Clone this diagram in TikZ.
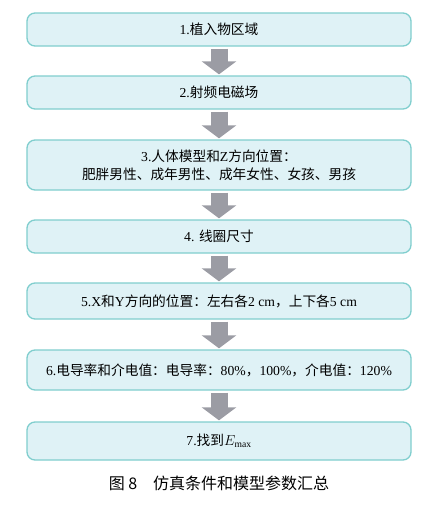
\documentclass[tikz,border=0pt]{standalone}
\usepackage{fontspec}
\setmainfont{Liberation Serif}
\newfontfamily\cjk{Noto Sans CJK SC}
\usetikzlibrary{arrows.meta,calc}
\definecolor{boxfill}{RGB}{223,242,246}
\definecolor{boxline}{RGB}{128,206,206}
\definecolor{arrowgray}{RGB}{155,156,164}
\tikzset{
  stepbox/.style={draw=boxline, fill=boxfill, line width=1.3pt, rounded corners=8pt,
    minimum width=384pt, align=center, font=\fontsize{13.7}{18}\selectfont, inner sep=0pt},
  flowarrow/.style={draw=arrowgray, line width=17pt, -{Triangle[width=34pt,length=13pt]}}
}
\begin{document}
\begin{tikzpicture}[x=1pt,y=1pt]
\useasboundingbox (0,0) rectangle (438,-506);
\node[stepbox, minimum height=33pt] (b1) at (219,-29.5) {1.{\cjk 植入物区域}};
\node[stepbox, minimum height=33pt] (b2) at (219,-92.5) {2.{\cjk 射频电磁场}};
\node[stepbox, minimum height=50pt] (b3) at (219,-165) {3.{\cjk 人体模型和}Z{\cjk 方向位置：}\\{\cjk 肥胖男性、成年男性、成年女性、女孩、男孩}};
\node[stepbox, minimum height=33pt] (b4) at (219,-236.5) {4. {\cjk 线圈尺寸}};
\node[stepbox, minimum height=36pt] (b5) at (219,-301) {5.X{\cjk 和}Y{\cjk 方向的位置：左右各}2 cm{\cjk ，上下各}5 cm};
\node[stepbox, minimum height=40pt] (b6) at (219,-370) {6.{\cjk 电导率和介电值：电导率：}80\%{\cjk ，}100\%{\cjk ，介电值：}120\%};
\node[stepbox, minimum height=38pt] (b7) at (219,-441) {7.{\cjk 找到}$E_{\mathrm{max}}$};
\foreach \a/\b in {b1/b2,b2/b3,b3/b4,b4/b5,b5/b6,b6/b7}
  \draw[flowarrow] ($(\a.south)+(0,-2)$) -- ($(\b.north)+(0,1)$);
\node[font=\cjk\fontsize{16}{19}\selectfont, inner sep=0pt] (cap) at (219,-483) {图 8\hspace{1em}仿真条件和模型参数汇总};
\end{tikzpicture}
\end{document}
